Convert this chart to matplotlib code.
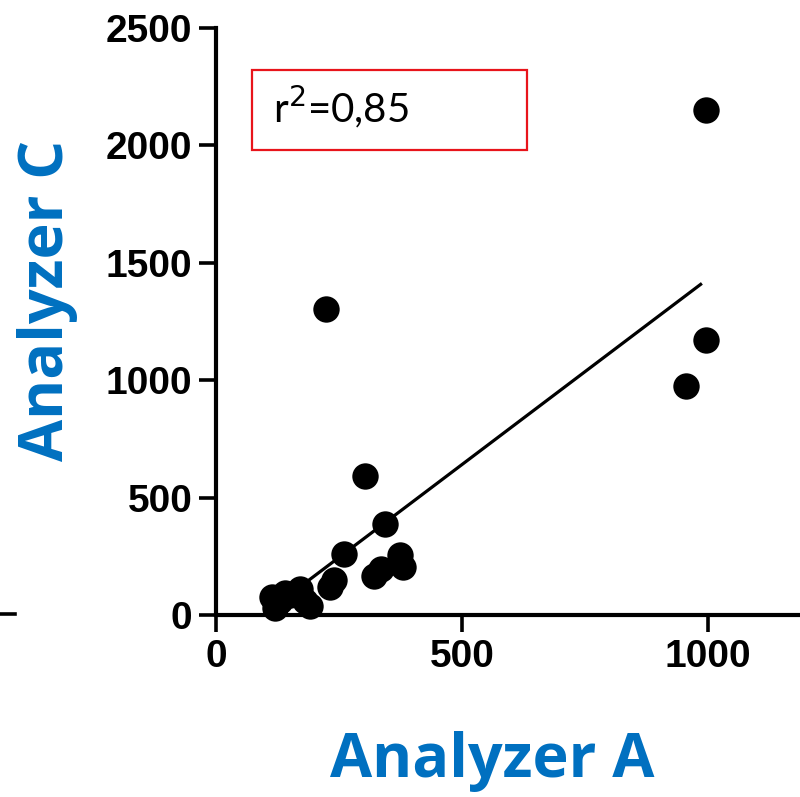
import matplotlib
matplotlib.use("Agg")
import matplotlib.pyplot as plt
from matplotlib.lines import Line2D
from matplotlib.patches import Rectangle

# values
analyzer_a = [995, 995, 955, 224, 303, 343, 260, 321, 335, 375, 380,
              232, 240, 114, 120, 140, 171, 180, 191, 150, 130]
analyzer_c = [2150, 1169, 977, 1301, 593, 388, 258, 165, 195, 255, 205,
              120, 150, 75, 30, 95, 110, 60, 40, 85, 60]
fit_x = [114, 985]
fit_y = [30, 1408]
x_ticks = [0, 500, 1000]
y_ticks = [0, 500, 1000, 1500, 2000, 2500]
r2_text = "r$^2$=0,85"

blue = "#0070C0"

fig = plt.figure(figsize=(8, 7.97), dpi=100)
ax = fig.add_axes([0.27, 0.2284, 0.73, 0.7365])

ax.plot(analyzer_a, analyzer_c, "o", color="black", markersize=19,
        markeredgewidth=0, clip_on=False, zorder=3)
ax.plot(fit_x, fit_y, color="black", linewidth=2.3, zorder=2)

ax.set_xlim(0, 1187)
ax.set_ylim(0, 2500)
ax.set_xticks(x_ticks)
ax.set_yticks(y_ticks)

for side in ["top", "right"]:
    ax.spines[side].set_visible(False)
for side in ["left", "bottom"]:
    ax.spines[side].set_linewidth(3.0)

ax.tick_params(axis="both", direction="out", length=12, width=2.6, pad=5,
               labelsize=28)
for lbl in ax.get_xticklabels() + ax.get_yticklabels():
    lbl.set_fontfamily("Liberation Sans")
    lbl.set_fontweight("bold")

# r² box
ax.add_patch(Rectangle((252 / 800, 1 - 150 / 797), 275 / 800, 80 / 797,
                       transform=fig.transFigure, fill=False,
                       edgecolor="#E8141B", linewidth=1.6))
fig.text(273 / 800, 1 - 122 / 797, r2_text, fontsize=29, family="Lato",
         ha="left", va="baseline")

# axis titles
fig.text(492 / 800, 1 - 762 / 797, "Analyzer A", color=blue, fontsize=44,
         fontweight="bold", family="Open Sans", ha="center", va="center")
fig.text(48 / 800, 1 - 300 / 797, "Analyzer C", color=blue, fontsize=44,
         fontweight="bold", family="Open Sans", ha="center", va="center",
         rotation=90)

# stray tick fragment at the far left edge
fig.add_artist(Line2D([0, 15 / 800], [1 - 614 / 797, 1 - 614 / 797],
                      transform=fig.transFigure, color="black", linewidth=2.6))

fig.savefig("out.png", dpi=100)
